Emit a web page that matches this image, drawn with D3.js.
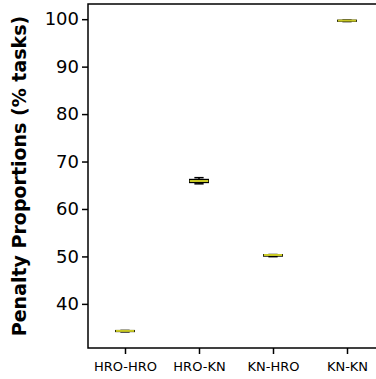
<!DOCTYPE html>
<html>
<head>
<meta charset="utf-8">
<script src="https://cdn.jsdelivr.net/npm/d3@7"></script>
<style>
  body { margin: 0; background: #fff; }
  svg { display: block; font-family: "DejaVu Sans", sans-serif; }
</style>
</head>
<body>
<svg width="376" height="379"></svg>
<script>
const categories = ["HRO-HRO", "HRO-KN", "KN-HRO", "KN-KN"];
const whiskerLow = [34.1, 65.3, 49.95, 99.5];
const q1 = [34.2, 65.6, 50.1, 99.6];
const median = [34.3, 65.9, 50.3, 99.7];
const q3 = [34.35, 66.2, 50.35, 99.75];
const whiskerHigh = [34.4, 66.6, 50.4, 99.8];
const yTicks = [40, 50, 60, 70, 80, 90, 100];

const margin = { top: 4, right: -8, bottom: 31, left: 88 };
const width = 376 - margin.left - margin.right;
const height = 379 - margin.top - margin.bottom;

const svg = d3.select("svg");
const g = svg.append("g").attr("transform", `translate(${margin.left},${margin.top})`);

const x = d3.scaleLinear().domain([0.5, 4.5]).range([0, width]);
const y = d3.scaleLinear().domain([30.7, 103.2]).range([height, 0]);
const boxW = x(1.25) - x(1);
const capW = boxW / 2;

const data = categories.map((c, i) => ({
  c, i: i + 1, lo: whiskerLow[i], q1: q1[i], med: median[i], q3: q3[i], hi: whiskerHigh[i]
}));

const boxes = g.selectAll(".box").data(data).enter().append("g").attr("class", "box");

// whiskers
boxes.append("line")
  .attr("x1", d => x(d.i)).attr("x2", d => x(d.i))
  .attr("y1", d => y(d.lo)).attr("y2", d => y(d.q1))
  .attr("stroke", "#000").attr("stroke-width", 1.5);
boxes.append("line")
  .attr("x1", d => x(d.i)).attr("x2", d => x(d.i))
  .attr("y1", d => y(d.q3)).attr("y2", d => y(d.hi))
  .attr("stroke", "#000").attr("stroke-width", 1.5);
// caps
boxes.append("line")
  .attr("x1", d => x(d.i) - capW / 2).attr("x2", d => x(d.i) + capW / 2)
  .attr("y1", d => y(d.lo)).attr("y2", d => y(d.lo))
  .attr("stroke", "#000").attr("stroke-width", 1.5);
boxes.append("line")
  .attr("x1", d => x(d.i) - capW / 2).attr("x2", d => x(d.i) + capW / 2)
  .attr("y1", d => y(d.hi)).attr("y2", d => y(d.hi))
  .attr("stroke", "#000").attr("stroke-width", 1.5);
// box
boxes.append("rect")
  .attr("x", d => x(d.i) - boxW / 2).attr("width", boxW)
  .attr("y", d => y(d.q3)).attr("height", d => y(d.q1) - y(d.q3))
  .attr("fill", "none").attr("stroke", "#000").attr("stroke-width", 1.5);
// median
boxes.append("line")
  .attr("x1", d => x(d.i) - boxW / 2).attr("x2", d => x(d.i) + boxW / 2)
  .attr("y1", d => y(d.med)).attr("y2", d => y(d.med))
  .attr("stroke", "#c9c925").attr("stroke-width", 2);

// axes
const yAxis = d3.axisLeft(y).tickValues(yTicks).tickSize(6).tickPadding(3);
const gy = g.append("g").call(yAxis).attr("font-family", "DejaVu Sans");
gy.select(".domain").remove();
gy.selectAll("line").attr("stroke-width", 1.5);
gy.selectAll("text").attr("font-size", 18).attr("fill", "#000");

const xAxis = d3.axisBottom(x).tickValues([1, 2, 3, 4]).tickFormat((d, i) => categories[i]).tickSize(6).tickPadding(8);
const gx = g.append("g").attr("transform", `translate(0,${height})`).call(xAxis).attr("font-family", "DejaVu Sans");
gx.select(".domain").remove();
gx.selectAll("line").attr("stroke-width", 1.5);
gx.selectAll("text").attr("font-size", 13).attr("fill", "#000");

// frame
g.append("rect").attr("x", 0).attr("y", 0).attr("width", width).attr("height", height)
  .attr("fill", "none").attr("stroke", "#000").attr("stroke-width", 1.5);

svg.append("text")
  .attr("transform", `translate(26,${margin.top + height / 2}) rotate(-90)`)
  .attr("text-anchor", "middle")
  .attr("font-size", 19).attr("font-weight", "bold")
  .text("Penalty Proportions (% tasks)");
</script>
</body>
</html>
